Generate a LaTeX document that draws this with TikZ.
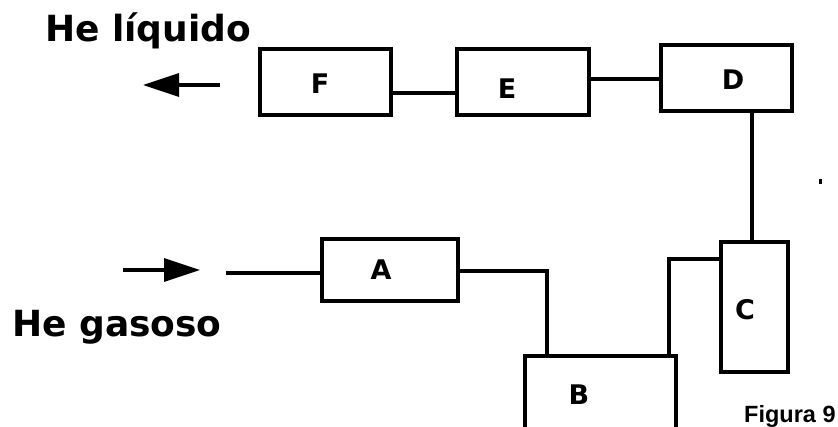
\documentclass[tikz,border=0pt]{standalone}
\usepackage{fontspec}
\setmainfont{DejaVu Sans}
\newfontfamily\figfont{Liberation Sans}
\usetikzlibrary{arrows.meta}
\begin{document}
\begin{tikzpicture}[x=1pt,y=-1pt,
  unitbox/.style={draw, line width=4pt, inner sep=0pt, outer sep=0pt},
  boxlabel/.style={font=\fontsize{27}{27}\bfseries\selectfont, inner sep=0pt},
  pipe/.style={line width=3.2pt},
  flowarrow/.style={line width=3.5pt, -{Triangle[length=36pt,width=23pt]}},
  bigtext/.style={font=\fontsize{36}{36}\bfseries\selectfont, inner sep=0pt, anchor=base west}]
\useasboundingbox (0,0) rectangle (838,427);
% boxes
\node[unitbox, minimum width=131pt, minimum height=66pt] (F) at (325.5,82) {};
\node[unitbox, minimum width=132pt, minimum height=66pt] (E) at (523,82) {};
\node[unitbox, minimum width=131pt, minimum height=66pt] (D) at (726.5,78) {};
\node[unitbox, minimum width=136pt, minimum height=62pt] (A) at (390,270) {};
\node[unitbox, minimum width=67pt, minimum height=130pt] (C) at (754.5,307) {};
\node[unitbox, minimum width=151pt, minimum height=104pt] (B) at (600.5,408) {};
% labels
\node[boxlabel] (lF) at (320,84) {F};
\node[boxlabel] (lE) at (507,89) {E};
\node[boxlabel] (lD) at (733,80) {D};
\node[boxlabel] (lA) at (381,270) {A};
\node[boxlabel] (lC) at (745,310) {C};
\node[boxlabel] (lB) at (579,395) {B};
% connectors
\draw[pipe] ([yshift=-11pt]F.east) -- ([yshift=-11pt]F.east -| E.west);
\draw[pipe] ([yshift=3pt]E.east) -- ([yshift=3pt]E.east -| D.west);
\draw[pipe] ([xshift=25.5pt]D.south) -- ([xshift=25.5pt]D.south |- C.north);
\draw[pipe] ([yshift=-1pt]A.east) -| ([xshift=-53.5pt]B.north);
\draw[pipe] ([xshift=68.5pt]B.north) |- ([yshift=48pt]C.west);
\coordinate (ain) at (226,273);
\draw[pipe] (ain) -- (ain -| A.west);
% arrows
\coordinate (gasS) at (123,270);
\coordinate (gasE) at (200,270);
\draw[flowarrow] (gasS) -- (gasE);
\coordinate (liqS) at (220,85);
\coordinate (liqE) at (143,85);
\draw[flowarrow] (liqS) -- (liqE);
% texts
\node[bigtext] (tliq) at (45,42) {He líquido};
\node[bigtext] (tgas) at (12,337) {He gasoso};
\node[font=\figfont\fontsize{23.5}{23.5}\bfseries\selectfont, inner sep=0pt, anchor=base west] (tfig) at (744,422) {Figura 9};
% stray dot
\fill (819,179) rectangle (822,184);
\end{tikzpicture}
\end{document}
